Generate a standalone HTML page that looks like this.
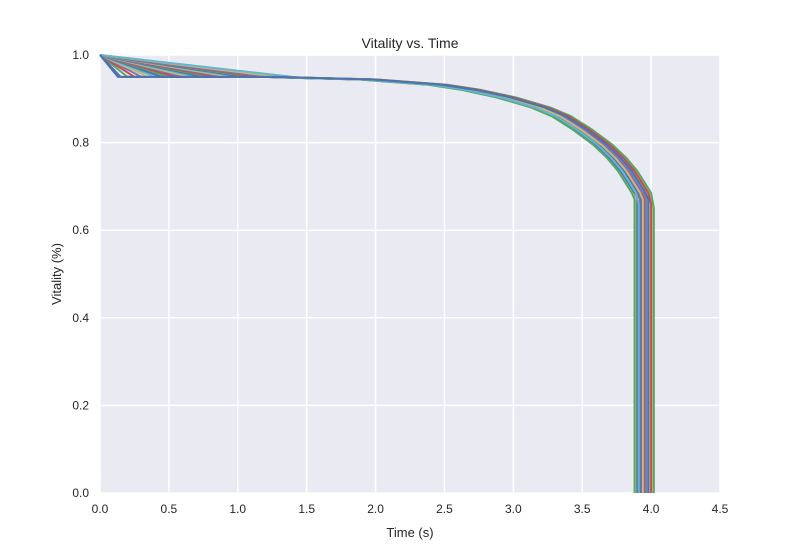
<!DOCTYPE html>
<html><head><meta charset="utf-8"><style>
body{margin:0;background:#fff}
svg{font-family:"Liberation Sans",Arial,sans-serif}
</style></head><body>
<svg id="chart" width="800" height="550">
<rect x="100" y="55" width="620" height="438" fill="#EAEAF2"/>
<g id="grid"></g><g id="lines"></g><g id="ticks"></g>
<text x="410" y="48" text-anchor="middle" font-size="14" fill="#262626">Vitality vs. Time</text>
<text x="410" y="537" text-anchor="middle" font-size="13" fill="#262626">Time (s)</text>
<text x="61" y="274" text-anchor="middle" font-size="13" fill="#262626" transform="rotate(-90 61 274)">Vitality (%)</text>
</svg>
<script>
const xTicks=[0,0.5,1,1.5,2,2.5,3,3.5,4,4.5];
const yTicks=[0,0.2,0.4,0.6,0.8,1.0];
// time before end (s) and vitality profile shared by every run
const profileDt=[2.7,2.5,2.0,1.5,1.25,1.0,0.75,0.6,0.45,0.3,0.2,0.12,0.06,0.02,0];
const profileV=[0.95,0.948,0.944,0.932,0.92,0.903,0.88,0.86,0.83,0.795,0.765,0.735,0.705,0.685,0.67];
const kneeTimes=[0.13,0.2,0.25,0.3,0.35,0.4,0.45,0.5,0.55,0.6,0.65,0.7,0.75,0.8,0.85,0.9,0.95,1.0,1.05,1.1,1.15,1.2,1.3,1.4,0.15];
const endTimes=[3.95,3.97,3.9,3.92,3.89,4.0,3.93,3.96,3.91,3.98,4.01,3.94,3.9,4.02,3.95,3.92,3.99,3.97,3.93,3.88,4.0,3.96,3.94,3.91,3.98];
const endVals=[0.67,0.68,0.66,0.67,0.68,0.66,0.69,0.67,0.66,0.68,0.66,0.67,0.68,0.65,0.67,0.69,0.66,0.67,0.68,0.67,0.66,0.68,0.67,0.66,0.67];
const colors=["#4C72B0","#55A868","#C44E52","#8172B2","#CCB974","#64B5CD"];
const X=v=>100+v/4.5*620, Y=v=>493-v*438;
const ns="http://www.w3.org/2000/svg";
const grid=document.getElementById('grid'),ticks=document.getElementById('ticks'),lines=document.getElementById('lines');
xTicks.forEach(t=>{
 const l=document.createElementNS(ns,'line');
 l.setAttribute('x1',X(t));l.setAttribute('x2',X(t));l.setAttribute('y1',55);l.setAttribute('y2',493);
 l.setAttribute('stroke','#fff');l.setAttribute('stroke-width','1.5');
 
 
 grid.appendChild(l);
 const tx=document.createElementNS(ns,'text');
 tx.setAttribute('x',X(t));tx.setAttribute('y',513);tx.setAttribute('text-anchor','middle');tx.setAttribute('font-size','12');tx.setAttribute('fill','#262626');
 tx.textContent=t.toFixed(1);
 
 
 ticks.appendChild(tx);
});
yTicks.forEach(t=>{
 const l=document.createElementNS(ns,'line');
 l.setAttribute('x1',100);l.setAttribute('x2',720);l.setAttribute('y1',Y(t));l.setAttribute('y2',Y(t));
 l.setAttribute('stroke','#fff');l.setAttribute('stroke-width','1.5');
 
 
 grid.appendChild(l);
 const tx=document.createElementNS(ns,'text');
 tx.setAttribute('x',89);tx.setAttribute('y',Y(t)+4);tx.setAttribute('text-anchor','end');tx.setAttribute('font-size','12');tx.setAttribute('fill','#262626');
 tx.textContent=t.toFixed(1);
 
 
 ticks.appendChild(tx);
});
kneeTimes.forEach((k,i)=>{
 const T=endTimes[i], ev=endVals[i];
 const pts=[[0,1],[k,0.95]];
 profileDt.forEach((d,j)=>{
  const t=T-d; if(t<=k) return;
  let v=profileV[j]; if(j===profileDt.length-1) v=ev;
  pts.push([t,v]);
 });
 pts.push([T,0]);
 const p=document.createElementNS(ns,'polyline');
 p.setAttribute('points',pts.map(q=>X(q[0])+','+Y(q[1])).join(' '));
 p.setAttribute('fill','none');p.setAttribute('stroke',colors[i%6]);p.setAttribute('stroke-width','2');p.setAttribute('stroke-linejoin','round');
 
 
 lines.appendChild(p);
});
</script>
</body></html>
